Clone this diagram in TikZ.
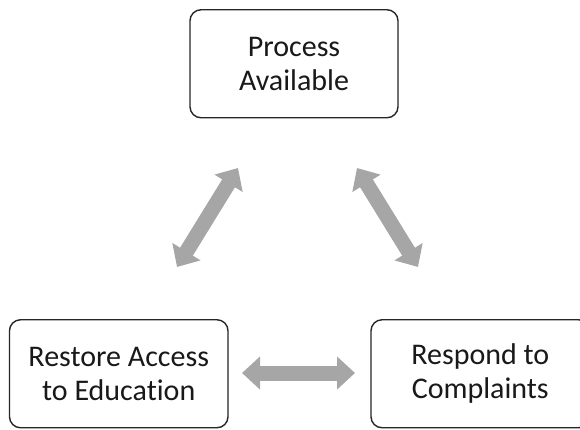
\documentclass[tikz,border=0pt]{standalone}
\usepackage{fontspec}
\setmainfont[Ligatures=NoCommon]{Carlito}
\usetikzlibrary{arrows.meta}

\newlength{\du}
\setlength{\du}{10\unitlength}

\definecolor{boxlinecolor}{rgb}{0.150000, 0.150000, 0.150000}
\definecolor{boxtextcolor}{rgb}{0.100000, 0.100000, 0.100000}
\definecolor{arrowcolor}{rgb}{0.650000, 0.650000, 0.650000}

\tikzset{
  stepbox/.style={draw=boxlinecolor, fill=white, line width=0.140000\du,
    rounded corners=1.100000\du, align=center, text=boxtextcolor,
    minimum height=10.800000\du, inner sep=0pt,
    font=\fontsize{30}{34}\selectfont},
  twoway/.style={draw=arrowcolor, line width=15pt,
    {Triangle[width=32pt,length=18pt]}-{Triangle[width=32pt,length=18pt]}}
}

\begin{document}
\begin{tikzpicture}
\pgftransformxscale{1.000000}
\pgftransformyscale{-1.000000}
\useasboundingbox (0\du,0\du) rectangle (58.000000\du,42.900000\du);
\clip (0\du,0\du) rectangle (58.000000\du,42.900000\du);
% boxes
\node[stepbox, minimum width=20.800000\du] (available) at (29.400000\du,6.375000\du){Process\\Available};
\node[stepbox, minimum width=21.850000\du] (restore) at (11.875000\du,37.375000\du){Restore Access\\to Education};
\node[stepbox, minimum width=21.850000\du] (respond) at (48.025000\du,37.375000\du){Respond to\\Complaints};
% arrow ends
\coordinate (leftlow) at (17.700000\du,26.700000\du);
\coordinate (lefthigh) at (23.800000\du,16.800000\du);
\coordinate (righthigh) at (35.700000\du,16.800000\du);
\coordinate (rightlow) at (41.800000\du,26.700000\du);
\coordinate (midleft) at (24.200000\du,37.300000\du);
\coordinate (midright) at (35.500000\du,37.300000\du);
\draw[twoway] (leftlow)--(lefthigh);
\draw[twoway] (righthigh)--(rightlow);
\draw[twoway] (midleft)--(midright);
\end{tikzpicture}
\end{document}
